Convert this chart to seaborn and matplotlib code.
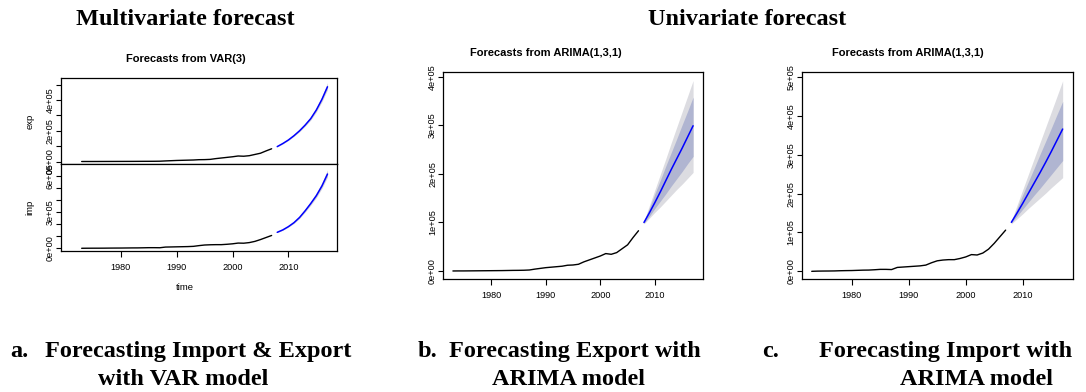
import matplotlib
matplotlib.use("Agg")
import matplotlib.pyplot as plt
import numpy as np
import pandas as pd
import seaborn as sns

# ---------------- data (values in units of 1e5) ----------------
hist_years = list(range(1973, 2008))
export_hist = [0.002, 0.003, 0.003, 0.004, 0.005, 0.006, 0.007, 0.008, 0.009, 0.010,
               0.012, 0.014, 0.015, 0.017, 0.022, 0.040, 0.055, 0.070, 0.080, 0.090,
               0.100, 0.120, 0.125, 0.140, 0.190, 0.230, 0.270, 0.310, 0.360, 0.345,
               0.380, 0.460, 0.540, 0.690, 0.830]
import_hist = [0.000, 0.005, 0.007, 0.008, 0.010, 0.015, 0.018, 0.020, 0.025, 0.030,
               0.032, 0.040, 0.050, 0.050, 0.045, 0.100, 0.110, 0.120, 0.130, 0.140,
               0.160, 0.220, 0.270, 0.290, 0.300, 0.300, 0.330, 0.370, 0.430, 0.420,
               0.470, 0.570, 0.720, 0.890, 1.060]

fc_years = list(range(2008, 2018))

# VAR(3) forecasts
var_exp_mean = [0.97, 1.17, 1.40, 1.68, 2.00, 2.37, 2.79, 3.35, 4.04, 4.86]
var_exp_lo = [0.96, 1.15, 1.37, 1.64, 1.94, 2.30, 2.70, 3.23, 3.89, 4.68]
var_exp_hi = [0.98, 1.19, 1.43, 1.73, 2.07, 2.46, 2.91, 3.50, 4.24, 5.12]
var_imp_mean = [1.32, 1.52, 1.79, 2.12, 2.55, 3.10, 3.70, 4.35, 5.15, 6.14]
var_imp_lo = [1.30, 1.49, 1.75, 2.06, 2.47, 3.00, 3.57, 4.19, 4.96, 5.90]
var_imp_hi = [1.34, 1.56, 1.85, 2.20, 2.66, 3.24, 3.88, 4.58, 5.42, 6.48]

# ARIMA(1,3,1) export forecasts
arx_mean = [1.00, 1.20, 1.41, 1.63, 1.86, 2.09, 2.31, 2.53, 2.76, 2.99]
arx_lo95 = [0.97, 1.09, 1.21, 1.32, 1.44, 1.56, 1.68, 1.79, 1.91, 2.03]
arx_lo80 = [0.98, 1.13, 1.29, 1.44, 1.59, 1.75, 1.90, 2.05, 2.21, 2.36]
arx_hi80 = [1.02, 1.30, 1.59, 1.87, 2.16, 2.44, 2.72, 3.01, 3.29, 3.58]
arx_hi95 = [1.03, 1.35, 1.67, 1.99, 2.31, 2.64, 2.96, 3.28, 3.60, 3.92]

# ARIMA(1,3,1) import forecasts
arm_mean = [1.26, 1.50, 1.75, 2.01, 2.27, 2.53, 2.80, 3.08, 3.37, 3.66]
arm_lo95 = [1.22, 1.35, 1.48, 1.62, 1.75, 1.88, 2.01, 2.15, 2.28, 2.41]
arm_lo80 = [1.24, 1.42, 1.60, 1.78, 1.96, 2.13, 2.31, 2.49, 2.67, 2.85]
arm_hi80 = [1.28, 1.62, 1.97, 2.31, 2.65, 3.00, 3.34, 3.68, 4.03, 4.37]
arm_hi95 = [1.30, 1.70, 2.10, 2.50, 2.90, 3.30, 3.70, 4.10, 4.50, 4.90]

x_ticks = [1980, 1990, 2000, 2010]
exp_var_ticks = [0, 1, 2, 3, 4, 5]
exp_var_labels = ["0e+00", "", "2e+05", "", "4e+05", ""]
imp_var_ticks = [0, 1, 2, 3, 4, 5, 6]
imp_var_labels = ["0e+00", "", "", "3e+05", "", "", "6e+05"]
b_ticks = [0, 1, 2, 3, 4]
b_labels = ["0e+00", "1e+05", "2e+05", "3e+05", "4e+05"]
c_ticks = [0, 1, 2, 3, 4, 5]
c_labels = ["0e+00", "1e+05", "2e+05", "3e+05", "4e+05", "5e+05"]

SCALE = 1e5

# ---------------- style ----------------
sns.set_theme(style="white")
plt.rcParams["font.family"] = ["Liberation Sans", "DejaVu Sans"]
plt.rcParams["axes.edgecolor"] = "black"
plt.rcParams["axes.linewidth"] = 0.9
plt.rcParams["text.color"] = "black"

W, H = 1086, 392
fig = plt.figure(figsize=(W / 100, H / 100), dpi=100)
fig.patch.set_facecolor("white")


def rect(x0, y0, x1, y1):
    return [x0 / W, 1 - y1 / H, (x1 - x0) / W, (y1 - y0) / H]


ax_exp = fig.add_axes(rect(61, 77.7, 337, 164))
ax_imp = fig.add_axes(rect(61, 164, 337, 250.7))
ax_b = fig.add_axes(rect(443.3, 72.3, 702.7, 278.7))
ax_c = fig.add_axes(rect(801.7, 72.3, 1072.7, 278.7))

hist_exp_df = pd.DataFrame({"year": hist_years, "v": np.array(export_hist) * SCALE})
hist_imp_df = pd.DataFrame({"year": hist_years, "v": np.array(import_hist) * SCALE})

OUTER = "#DCDCE1"
INNER = "#B0B5D1"
VARBAND = "#CFCFD8"


def draw_hist(ax, df):
    sns.lineplot(data=df, x="year", y="v", ax=ax, color="black", lw=1.0,
                 legend=False)


def draw_fc(ax, mean, color="#0000FF"):
    df = pd.DataFrame({"year": fc_years, "v": np.array(mean) * SCALE})
    sns.lineplot(data=df, x="year", y="v", ax=ax, color=color, lw=1.1,
                 legend=False)


def band(ax, lo, hi, color):
    ax.fill_between(fc_years, np.array(lo) * SCALE, np.array(hi) * SCALE,
                    color=color, lw=0)


# VAR panels
band(ax_exp, var_exp_lo, var_exp_hi, VARBAND)
draw_hist(ax_exp, hist_exp_df)
draw_fc(ax_exp, var_exp_mean)
band(ax_imp, var_imp_lo, var_imp_hi, VARBAND)
draw_hist(ax_imp, hist_imp_df)
draw_fc(ax_imp, var_imp_mean)

# ARIMA panels
band(ax_b, arx_lo95, arx_hi95, OUTER)
band(ax_b, arx_lo80, arx_hi80, INNER)
draw_hist(ax_b, hist_exp_df)
draw_fc(ax_b, arx_mean)

band(ax_c, arm_lo95, arm_hi95, OUTER)
band(ax_c, arm_lo80, arm_hi80, INNER)
draw_hist(ax_c, hist_imp_df)
draw_fc(ax_c, arm_mean)

TICKFS = 6.6


def style_axes(ax, yticks, ylabels, show_x=True):
    for s in ax.spines.values():
        s.set_visible(True)
        s.set_color("black")
        s.set_linewidth(0.9)
    ax.set_xlabel("")
    ax.set_ylabel("")
    ax.set_yticks([t * SCALE for t in yticks])
    ax.set_yticklabels(ylabels)
    ax.tick_params(axis="y", direction="out", length=3.5, width=0.8,
                   pad=1.0, labelsize=TICKFS, labelrotation=90, left=True,
                   colors="black")
    for lab in ax.get_yticklabels():
        lab.set_va("center")
        lab.set_color("black")
    ax.set_xticks(x_ticks)
    if show_x:
        ax.set_xticklabels([str(t) for t in x_ticks])
        ax.tick_params(axis="x", direction="out", length=4, width=0.8,
                       pad=5, labelsize=TICKFS, bottom=True, colors="black")
        for lab in ax.get_xticklabels():
            lab.set_color("black")
    else:
        ax.tick_params(axis="x", bottom=False, labelbottom=False)
    ax.grid(False)


ax_exp.set_xlim(1969.3, 2018.7)
ax_imp.set_xlim(1969.3, 2018.7)
ax_exp.set_ylim(-0.16 * SCALE, 5.45 * SCALE)
ax_imp.set_ylim(-0.2 * SCALE, 6.97 * SCALE)
ax_b.set_xlim(1971.24, 2018.76)
ax_b.set_ylim(-0.157 * SCALE, 4.09 * SCALE)
ax_c.set_xlim(1971.24, 2018.76)
ax_c.set_ylim(-0.19 * SCALE, 5.12 * SCALE)

style_axes(ax_exp, exp_var_ticks, exp_var_labels, show_x=False)
style_axes(ax_imp, imp_var_ticks, imp_var_labels, show_x=True)
style_axes(ax_b, b_ticks, b_labels)
style_axes(ax_c, c_ticks, c_labels)


def px(x, y):
    return x / W, 1 - y / H


# axis labels of VAR panel
fig.text(*px(30, 121), "exp", rotation=90, ha="center", va="center",
         fontsize=6.8, color="black")
fig.text(*px(30, 207), "imp", rotation=90, ha="center", va="center",
         fontsize=6.8, color="black")
fig.text(*px(185, 287), "time", ha="center", va="center", fontsize=6.8,
         color="black")

# plot titles
SUBFS = 8
fig.text(*px(186, 59), "Forecasts from VAR(3)", ha="center", va="center",
         fontsize=SUBFS, fontweight="bold", color="black")
fig.text(*px(545.5, 53), "Forecasts from ARIMA(1,3,1)", ha="center",
         va="center", fontsize=SUBFS, fontweight="bold", color="black")
fig.text(*px(908, 53), "Forecasts from ARIMA(1,3,1)", ha="center",
         va="center", fontsize=SUBFS, fontweight="bold", color="black")

# section headings and captions
SERIF = ["Liberation Serif", "DejaVu Serif"]
HFS = 17.5
fig.text(*px(185, 25), "Multivariate forecast", ha="center", va="baseline",
         fontsize=HFS, fontweight="bold", family=SERIF, color="black")
fig.text(*px(747, 25), "Univariate forecast", ha="center", va="baseline",
         fontsize=HFS, fontweight="bold", family=SERIF, color="black")

CFS = 17.5
caps = [
    (10, 45, "a.", "Forecasting Import & Export", 183, "with VAR model"),
    (417.5, 449, "b.", "Forecasting Export with", 569, "ARIMA model"),
    (762, 819, "c.", "Forecasting Import with", 976, "ARIMA model"),
]
for xl, xt, lab, line1, xc, line2 in caps:
    fig.text(*px(xl, 357), lab, ha="left", va="baseline", fontsize=CFS,
             fontweight="bold", family=SERIF, color="black")
    fig.text(*px(xt, 357), line1, ha="left", va="baseline", fontsize=CFS,
             fontweight="bold", family=SERIF, color="black")
    fig.text(*px(xc, 385), line2, ha="center", va="baseline", fontsize=CFS,
             fontweight="bold", family=SERIF, color="black")

fig.savefig("out.png", dpi=100, facecolor="white")
